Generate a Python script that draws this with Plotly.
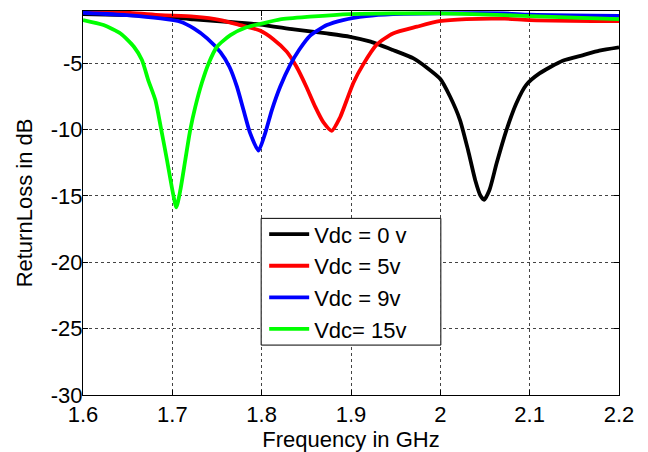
import plotly.graph_objects as go

# Vdc = 0 v (black)
f0 = [1.60, 1.65, 1.69, 1.724, 1.761, 1.798, 1.836, 1.873, 1.899, 1.922, 1.947, 1.970, 1.985,
      2.000, 2.011, 2.022, 2.031, 2.039, 2.045, 2.049, 2.055, 2.063, 2.074, 2.085, 2.096, 2.111,
      2.137, 2.160, 2.178, 2.200]
rl0 = [-1.31, -1.39, -1.51, -1.71, -1.89, -2.10, -2.46, -2.77, -3.02, -3.39, -4.02, -4.65, -5.35,
       -6.2, -7.54, -9.29, -11.55, -13.8, -15.0, -15.3, -14.56, -12.55, -10.05, -8.04, -6.66, -5.78,
       -4.82, -4.4, -4.07, -3.82]

# Vdc = 5v (red)
f5 = [1.60, 1.649, 1.687, 1.724, 1.754, 1.776, 1.798, 1.813, 1.828, 1.839, 1.850, 1.860, 1.869,
      1.8784, 1.8877, 1.8952, 1.9026, 1.9137, 1.929, 1.947, 1.974, 1.999, 2.029, 2.072, 2.10, 2.20]
rl5 = [-1.13, -1.21, -1.39, -1.51, -1.76, -2.14, -2.55, -3.2, -4.14, -5.28, -6.78, -8.3, -9.45,
       -10.1, -9.1, -7.8, -6.5, -5.1, -3.6, -2.77, -2.26, -1.85, -1.69, -1.66, -1.76, -1.85]

# Vdc = 9v (blue)
f9 = [1.60, 1.649, 1.687, 1.709, 1.724, 1.739, 1.754, 1.764, 1.7723, 1.7797, 1.7872, 1.7964,
      1.8039, 1.8114, 1.8207, 1.8318, 1.842, 1.854, 1.873, 1.891, 1.917, 1.947, 2.00, 2.07, 2.10, 2.20]
rl9 = [-1.21, -1.39, -1.64, -1.89, -2.39, -3.14, -4.2, -5.3, -6.78, -8.54, -10.3, -11.6,
       -10.3, -8.54, -6.78, -5.15, -4.0, -2.95, -2.14, -1.76, -1.46, -1.31, -1.26, -1.26, -1.36, -1.45]

# Vdc = 15v (green)
f15 = [1.60, 1.623, 1.642, 1.657, 1.666, 1.673, 1.681, 1.687, 1.694, 1.7007, 1.7045, 1.709, 1.7145,
       1.72, 1.7257, 1.733, 1.7406, 1.75, 1.765, 1.783, 1.80, 1.8207, 1.854, 1.899, 1.947, 2.00,
       2.072, 2.10, 2.20]
rl15 = [-1.76, -2.14, -2.77, -3.77, -4.77, -6.28, -7.79, -9.8, -12.3, -14.8, -15.87, -14.56, -12.3,
        -10.05, -8.3, -6.5, -5.03, -3.77, -2.9, -2.31, -2.03, -1.71, -1.51, -1.31, -1.26, -1.26,
        -1.39, -1.46, -1.69]

names = ["Vdc = 0 v", "Vdc = 5v", "Vdc = 9v", "Vdc= 15v"]
colors = ["#000000", "#ff0000", "#0000ff", "#00ff00"]

xticks = [1.6, 1.7, 1.8, 1.9, 2.0, 2.1, 2.2]
xticklabels = ["1.6", "1.7", "1.8", "1.9", "2", "2.1", "2.2"]
yticks = [-30, -25, -20, -15, -10, -5]
yticklabels = ["-30", "-25", "-20", "-15", "-10", "-5"]

FONT = "Liberation Sans, Arial, sans-serif"
FS = 22

fig = go.Figure()
for xs, ys, nm, c in zip([f0, f5, f9, f15], [rl0, rl5, rl9, rl15], names, colors):
    fig.add_trace(go.Scatter(x=xs, y=ys, mode="lines", name=nm,
                             line=dict(color=c, width=3.8, shape="spline", smoothing=0.6)))

axis_common = dict(showline=True, linecolor="black", linewidth=1, mirror="ticks",
                   ticks="inside", ticklen=5, tickcolor="black", tickwidth=1,
                   showgrid=True, gridcolor="#444444", griddash="dot", gridwidth=1,
                   zeroline=False, tickfont=dict(family=FONT, size=FS, color="black"))

# legend frame (box drawn as a paper-space rectangle under the legend entries)
fig.add_shape(type="rect", xref="paper", yref="paper", x0=0.3324, x1=0.6676, y0=0.130, y1=0.460,
              line=dict(color="black", width=1), fillcolor="white", layer="above")

fig.update_layout(
    width=648, height=452,
    margin=dict(l=82.5, r=28.5, t=11, b=57, autoexpand=False),
    paper_bgcolor="white", plot_bgcolor="white",
    font=dict(family=FONT, size=FS, color="black"),
    xaxis=dict(range=[1.6, 2.2], tickvals=xticks, ticktext=xticklabels, automargin=False,
               title=dict(text="Frequency in GHz", font=dict(family=FONT, size=FS), standoff=0),
               **axis_common),
    yaxis=dict(range=[-30, -1.08], tickvals=yticks, ticktext=yticklabels, automargin=False,
               ticklabelstandoff=-5,
               title=dict(text="ReturnLoss in dB", font=dict(family=FONT, size=FS), standoff=12),
               **axis_common),
    legend=dict(x=0.338, y=0.473, xanchor="left", yanchor="top",
                bgcolor="rgba(0,0,0,0)", borderwidth=0,
                font=dict(family=FONT, size=FS, color="black"),
                tracegroupgap=0, itemwidth=40),
    showlegend=True,
)

fig.write_html("out.html", config={"displayModeBar": False},
               post_script="document.body.style.margin='0';document.body.style.padding='0';")
